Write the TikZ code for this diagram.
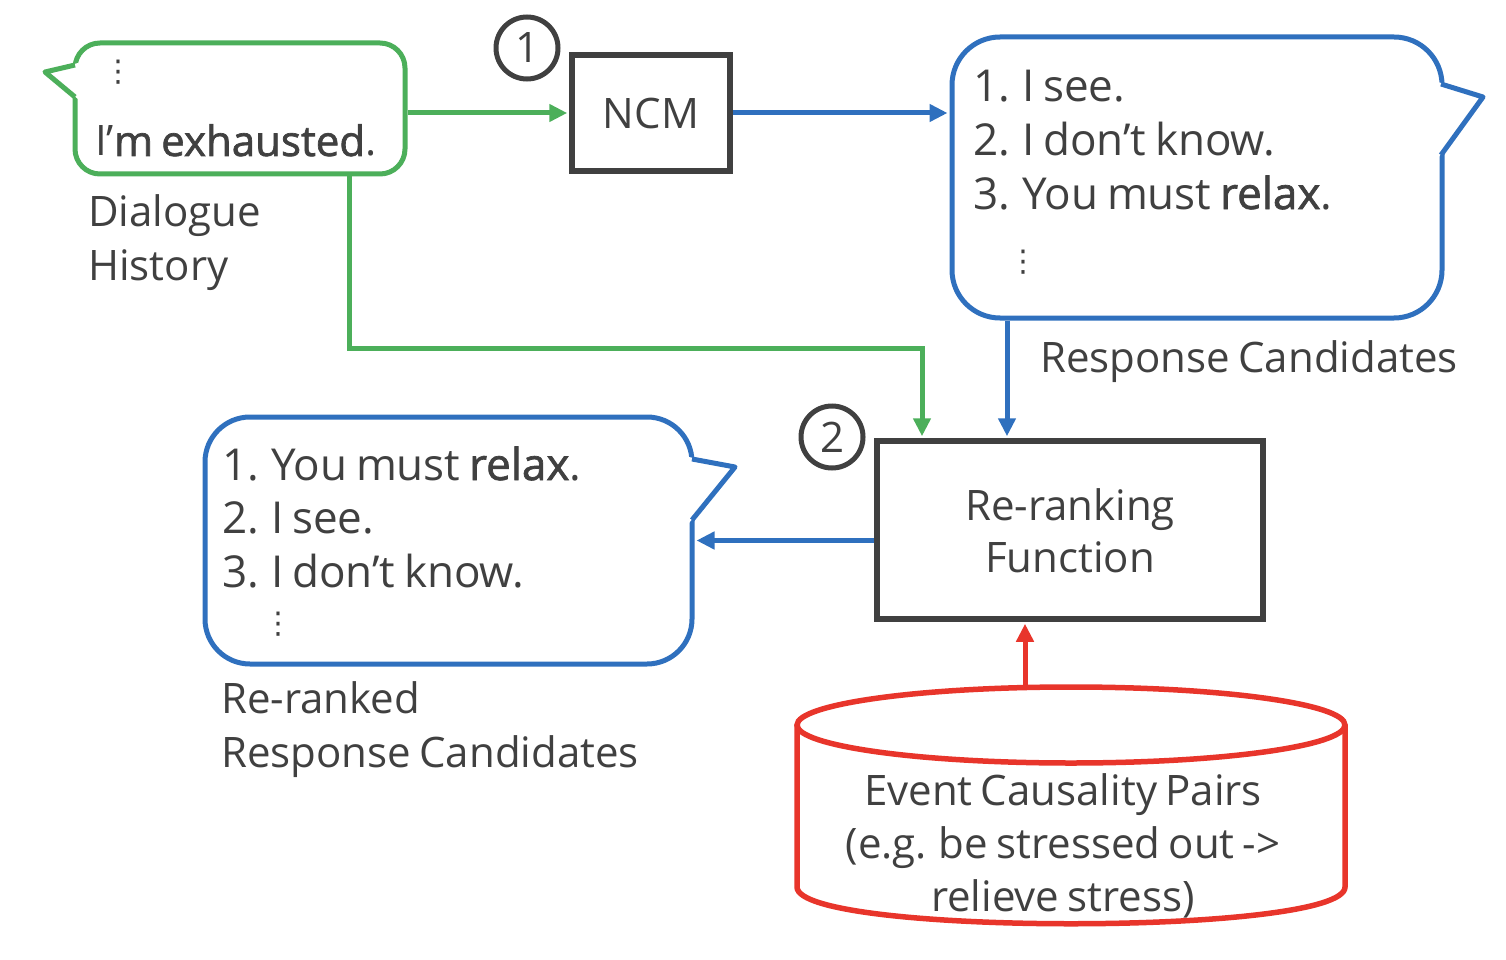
\documentclass[tikz,border=0pt]{standalone}
\usepackage{fontspec}
\setmainfont{Open Sans}[WordSpace=0.75]
\newfontfamily\semib{Open Sans}[FakeBold=1.6,WordSpace=0.75]
\newfontfamily\dv{DejaVu Sans}
\usetikzlibrary{arrows.meta}
\definecolor{tc}{HTML}{404040}
\definecolor{gc}{HTML}{4CAF5A}
\definecolor{bc}{HTML}{2F70BE}
\definecolor{rc}{HTML}{E8352B}
\begin{document}
\begin{tikzpicture}[x=1pt,y=-1pt,
  txt/.style={text=tc,inner sep=0pt,anchor=base west,font=\fontsize{44}{54}\selectfont},
  lbl/.style={text=tc,inner sep=0pt,anchor=base west,font=\fontsize{42}{54}\selectfont},
  ctxt/.style={text=tc,inner sep=0pt,anchor=base,font=\fontsize{42}{54}\selectfont},
  dots/.style={text=tc,inner sep=0pt,font=\dv\fontsize{30}{30}\selectfont},
  boxs/.style={draw=tc,line width=5.5pt,inner sep=0pt,fill=white},
  bub/.style={draw,line width=5pt,fill=white,inner sep=0pt},
  conn/.style={line width=5pt,-{Triangle[length=18pt,width=17pt]},shorten >=2pt},
  num/.style={circle,draw=tc,line width=5pt,minimum size=62pt,inner sep=0pt,text=tc,font=\fontsize{42}{42}\selectfont},
  cyl/.style={draw=rc,line width=5.5pt,fill=white}
]
\useasboundingbox (0,0) rectangle (1506,960);

% green bubble (dialogue history)
\node[bub,draw=gc,rounded corners=25pt,minimum width=330pt,minimum height=131pt] (gb) at (240,108.5) {};
\fill[white] (78,63) -- (45,72) -- (78,99) -- cycle;
\draw[gc,line width=5pt,line join=round] (75,65) -- (45,72) -- (75,97);
\node[dots] (gdots) at (118,72) {⋮};
\node[lbl] (gtext) at (95,156) {I’{\semib m exhausted}.};
\node[lbl] (dh1) at (88,226) {Dialogue};
\node[lbl] (dh2) at (88,280) {History};

% NCM
\node[num] (c1) at (527,48) {1};
\node[boxs,minimum width=158pt,minimum height=116pt,font=\fontsize{42}{42}\selectfont,text=tc] (ncm) at (651,113) {NCM};

% blue bubble (response candidates)
\node[bub,draw=bc,rounded corners=48pt,minimum width=490pt,minimum height=281pt] (bb) at (1197,177.5) {};
\fill[white] (1438,82) -- (1483,97) -- (1438,158) -- cycle;
\draw[bc,line width=5pt,line join=round] (1441,84) -- (1483,97) -- (1441,155);
\node[txt] (b1) at (973,102) {1. I see.};
\node[txt] (b2) at (973,156) {2. I don’t know.};
\node[txt] (b3) at (973,209) {3. You must {\semib relax}.};
\node[dots] (bdots) at (1023,262) {⋮};
\node[lbl] (rc1) at (1040,372) {Response Candidates};

% re-ranking function
\node[num] (c2) at (832,437) {2};
\node[boxs,minimum width=386pt,minimum height=178pt] (rr) at (1070,530) {};
\node[ctxt] (rr1) at (1070,520) {Re-ranking};
\node[ctxt] (rr2) at (1070,572) {Function};

% re-ranked bubble
\node[bub,draw=bc,rounded corners=45pt,minimum width=487pt,minimum height=247pt] (rb) at (448.5,540.5) {};
\fill[white] (689,457) -- (735,467) -- (689,523) -- cycle;
\draw[bc,line width=5pt,line join=round] (692,459) -- (735,467) -- (692,520);
\node[txt] (r1) at (222,480) {1. You must {\semib relax}.};
\node[txt] (r2) at (222,533) {2. I see.};
\node[txt] (r3) at (222,587) {3. I don’t know.};
\node[dots] (rdots) at (278,624) {⋮};
\node[lbl] (rl1) at (221,713) {Re-ranked};
\node[lbl] (rl2) at (221,767) {Response Candidates};

% cylinder (event causality pairs)
\draw[cyl] (797,725) -- (797,887) .. controls (797,936) and (1345,936) .. (1345,887) -- (1345,725);
\draw[cyl] (1071,725) ellipse [x radius=274,y radius=38];
\coordinate (cyltop) at (1025,687);
\node[ctxt] (e1) at (1063,805) {Event Causality Pairs};
\node[ctxt] (e2) at (1063,858) {(e.g. be stressed out ->};
\node[ctxt] (e3) at (1063,911) {relieve stress)};

% connectors
\coordinate (gx) at (349,348);
\coordinate (gy) at (922,348);
\coordinate (bx) at (1007,0);
\draw[conn,gc] (gb.east |- ncm.west) -- (ncm.west);
\draw[conn,bc] (ncm.east) -- (bb.west |- ncm.east);
\draw[conn,gc] (gb.south -| gx) -- (gx) -- (gy) -- (rr.north -| gy);
\draw[conn,bc] (bb.south -| bx) -- (rr.north -| bx);
\draw[conn,bc] (rr.west |- rb.east) -- (rb.east);
\draw[conn,rc] (cyltop) -- (rr.south -| cyltop);
\end{tikzpicture}
\end{document}
